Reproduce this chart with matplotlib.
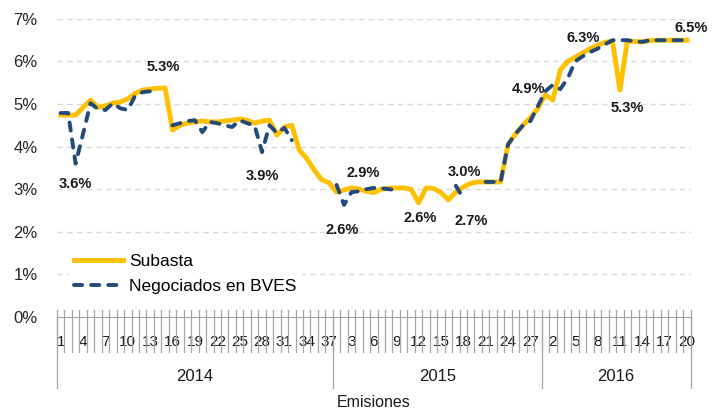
import numpy as np
import matplotlib
matplotlib.use("Agg")
import matplotlib.pyplot as plt
import matplotlib.transforms as mtransforms

plt.rcParams['font.family'] = ['Liberation Sans Narrow', 'Liberation Sans', 'DejaVu Sans']

# semanas por año
years = ['2014', '2015', '2016']
weeks_per_year = [37, 28, 20]

nan = np.nan
subasta = [
    4.74, 4.74, 4.74, 4.92, 5.09, 4.92, 4.96, 5.02, 5.05, 5.12,
    5.25, 5.33, 5.35, 5.37, 5.38, 4.39, 4.50, 4.55, 4.58, 4.60,
    4.58, 4.58, 4.60, 4.62, 4.65, 4.62, 4.55, 4.60, 4.62, 4.27,
    4.46, 4.50, 3.92, 3.72, 3.45, 3.22, 3.15, 2.93, 2.98, 3.03,
    3.00, 2.95, 2.92, 3.00, 3.02, 3.03, 3.03, 3.00, 2.68, 3.03,
    3.02, 2.92, 2.75, 2.93, 3.05, 3.14, 3.17, 3.17, 3.17, 3.17,
    4.05, 4.30, 4.50, 4.68, 4.90, 5.22, 5.09, 5.80, 6.00, 6.10,
    6.20, 6.30, 6.38, 6.45, 6.48, 5.33, 6.48, 6.47, 6.46, 6.49,
    6.50, 6.50, 6.50, 6.50, 6.50,
]
bves = [
    4.79, 4.79, 3.60, 4.30, 5.02, 4.88, 4.86, 5.02, 4.90, 4.86,
    5.20, 5.28, 5.30, 5.37, nan, 4.50, 4.55, 4.60, 4.62, 4.34,
    4.58, 4.55, 4.50, 4.46, 4.62, 4.55, 4.50, 3.87, 4.50, 4.32,
    4.44, 4.15, nan, nan, nan, nan, nan, 3.10, 2.63, 2.93,
    2.95, 3.00, 3.03, 3.02, 3.00, 2.98, nan, nan, nan, nan,
    nan, nan, nan, 3.08, 2.78, nan, nan, 3.17, 3.17, 3.17,
    4.05, 4.30, 4.50, 4.60, 4.95, 5.30, 5.45, 5.35, 5.60, 6.00,
    6.12, 6.22, 6.30, 6.40, 6.50, 6.50, 6.50, 6.47, 6.46, 6.50,
    6.50, 6.50, 6.50, 6.50, 6.50,
]

# etiquetas de datos: (serie, indice, texto, desplazamiento en puntos)
labels = [
    ('b', 2, '3.6%', (0, -15)),
    ('s', 14, '5.3%', (-1.5, 15)),
    ('b', 27, '3.9%', (0, -17)),
    ('b', 38, '2.6%', (-1, -18)),
    ('b', 41, '2.9%', (-2, 12)),
    ('s', 48, '2.6%', (1, -11)),
    ('b', 54, '2.7%', (6, -16)),
    ('b', 53, '3.0%', (6, 10)),
    ('s', 64, '4.9%', (-7, 14)),
    ('s', 71, '6.3%', (-5, 8)),
    ('s', 75, '5.3%', (5, -13)),
    ('s', 84, '6.5%', (3, 9)),
]

n = sum(weeks_per_year)
x = np.arange(n)
week_num = np.concatenate([np.arange(1, w + 1) for w in weeks_per_year])

fig = plt.figure(figsize=(7.21, 4.11), dpi=100)
ax = fig.add_axes([0.079, 0.229, 0.879, 0.725])

ax.set_xlim(-0.5, n - 0.5)
ax.set_ylim(0, 7)
for v in range(1, 8):
    ax.axhline(v, color='#D9D9D9', lw=1, dashes=(4, 3), zorder=0)

ax.plot(x, subasta, color='#FFC000', lw=3.5, label='Subasta', zorder=3,
        solid_joinstyle='round')
ax.plot(x, bves, color='#234A7D', lw=2.8, dashes=(2.1, 2.3), label='Negociados en BVES',
        zorder=4, dash_capstyle='round')

series = {'s': subasta, 'b': bves}
for key, i, txt, off in labels:
    ax.annotate(txt, xy=(i, series[key][i]), xytext=off, textcoords='offset points',
                ha='center', va='center', fontsize=10.5, fontweight='bold', color='#1a1a1a')

for s in ['top', 'right', 'left']:
    ax.spines[s].set_visible(False)
ax.spines['bottom'].set_color('#A6A6A6')

ax.set_yticks(range(0, 8))
ax.set_yticklabels(['%d%%' % v for v in range(0, 8)], fontsize=12, color='#262626')
ax.tick_params(axis='y', length=0, pad=14)

ax.set_xticks(x[::3])
ax.set_xticklabels([str(w) for w in week_num[::3]], fontsize=11, color='#1a1a1a')
ax.tick_params(axis='x', length=0, pad=13)

trans = mtransforms.blended_transform_factory(ax.transData, ax.transAxes)
bounds = np.cumsum([0] + weeks_per_year) - 0.5
for b in np.arange(-0.5, n, 1.0):
    ax.plot([b, b], [0.024, -0.117], color='#A6A6A6', lw=0.9, transform=trans, clip_on=False)
for b in bounds:
    ax.plot([b, b], [0, -0.238], color='#A6A6A6', lw=0.9, transform=trans, clip_on=False)
for k, yr in enumerate(years):
    ax.text((bounds[k] + bounds[k + 1]) / 2, -0.2, yr, transform=trans,
            ha='center', va='center', fontsize=12, color='#1a1a1a')

fig.text(0.518, 0.02, 'Emisiones', ha='center', va='center', fontsize=11.5, color='#1a1a1a')

leg = ax.legend(loc='upper left', bbox_to_anchor=(0.019, 0.228), frameon=True, fontsize=12.5,
                handlelength=2.8, borderpad=0.3, labelspacing=0.55, handletextpad=0.35,
                borderaxespad=0)
leg.get_frame().set_facecolor('white')
leg.get_frame().set_edgecolor('white')
leg.get_frame().set_alpha(1)

fig.savefig('out.png', dpi=100)
